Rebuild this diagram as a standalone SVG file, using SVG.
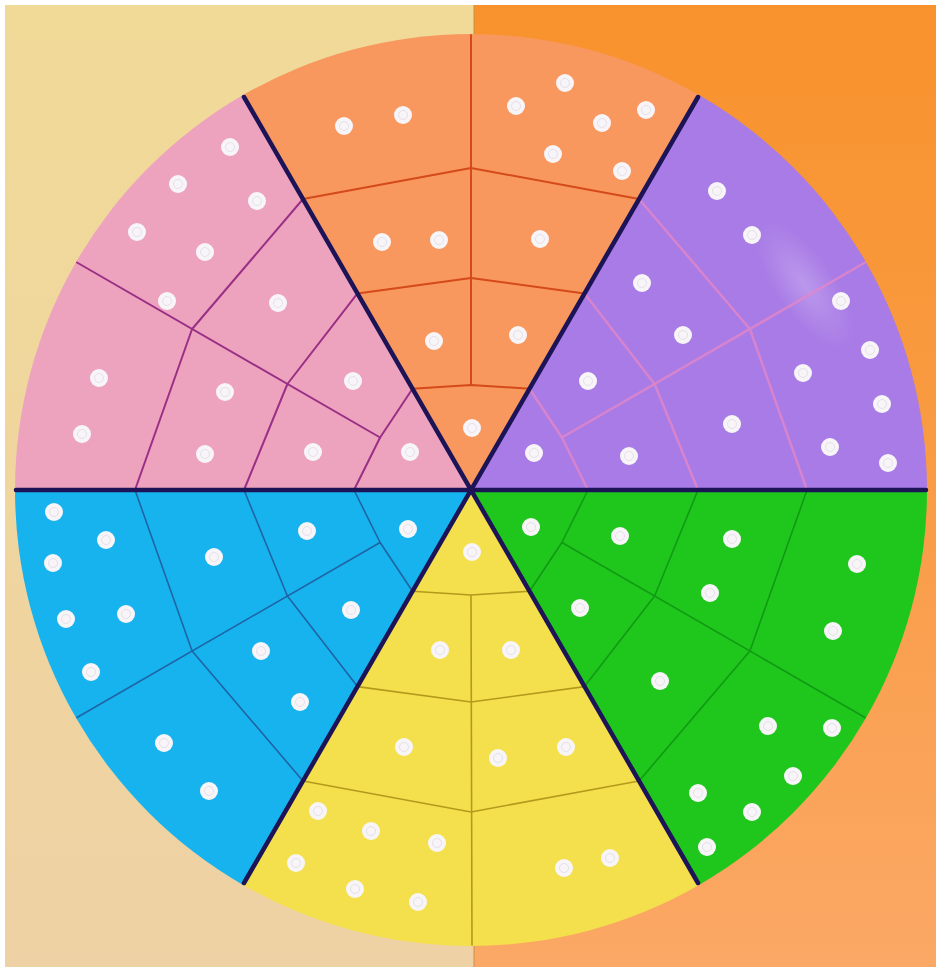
<svg xmlns="http://www.w3.org/2000/svg" width="936" height="971" viewBox="0 0 936 971">
  <defs>
    <linearGradient id="bgL" x1="0" y1="0" x2="0" y2="1">
      <stop offset="0" stop-color="#f1da98"/>
      <stop offset="1" stop-color="#eed1a4"/>
    </linearGradient>
    <linearGradient id="bgR" x1="0" y1="0" x2="0" y2="1">
      <stop offset="0" stop-color="#f8922c"/>
      <stop offset="0.5" stop-color="#f99c45"/>
      <stop offset="1" stop-color="#fba866"/>
    </linearGradient>
    <radialGradient id="purpleGlow" cx="0.5" cy="0.5" r="0.5">
      <stop offset="0" stop-color="#ffffff" stop-opacity="0.22"/>
      <stop offset="1" stop-color="#ffffff" stop-opacity="0"/>
    </radialGradient>
    <g id="dot">
      <circle r="9" fill="#f8f5f8"/>
      <circle r="4.5" fill="none" stroke="#e6dfe9" stroke-width="1"/>
    </g>
  </defs>
  <style>
    .lines { fill: none; stroke-linejoin: round; stroke-linecap: round; }
    .pinkL { stroke: #9a2f86; stroke-width: 2; }
    .orangeL { stroke: #d44a1a; stroke-width: 2; }
    .purpleL { stroke: #e486c8; stroke-width: 2.5; opacity: 0.8; }
    .blueL { stroke: #1f64a4; stroke-width: 1.6; }
    .yellowL { stroke: #b49a1c; stroke-width: 1.6; }
    .greenL { stroke: #119a14; stroke-width: 1.6; }
    .divider { stroke: #1c1456; stroke-width: 4.5; stroke-linecap: round; fill: none; }
  </style>

  <!-- background -->
  <rect x="0" y="0" width="936" height="971" fill="#ffffff"/>
  <rect x="5" y="5" width="469" height="962" fill="url(#bgL)"/>
  <rect x="474" y="5" width="462" height="962" fill="url(#bgR)"/>
  <line x1="474" y1="5" x2="474" y2="967" stroke="#c88a40" stroke-width="1.5" opacity="0.6"/>

  <!-- purple sector -->
  <g id="sector-purple">
    <path d="M471,490 L927,490 A456,456 0 0 0 699,95.1 Z" fill="#a87be6"/>
    <ellipse cx="805" cy="285" rx="75" ry="30" transform="rotate(55 805 285)" fill="url(#purpleGlow)"/>
    <g class="lines purpleL">
      <polyline points="807,490 749.9,329 639,199"/>
      <polyline points="698,490 654.6,384 584.5,293.4"/>
      <polyline points="588,490 561.9,437.5 529.5,388.7"/>
      <line x1="865" y1="262.5" x2="561.9" y2="437.5"/>
    </g>
    <use href="#dot" x="717" y="191"/>
    <use href="#dot" x="752" y="235"/>
    <use href="#dot" x="642" y="283"/>
    <use href="#dot" x="841" y="301"/>
    <use href="#dot" x="683" y="335"/>
    <use href="#dot" x="870" y="350"/>
    <use href="#dot" x="588" y="381"/>
    <use href="#dot" x="803" y="373"/>
    <use href="#dot" x="882" y="404"/>
    <use href="#dot" x="732" y="424"/>
    <use href="#dot" x="534" y="453"/>
    <use href="#dot" x="629" y="456"/>
    <use href="#dot" x="830" y="447"/>
    <use href="#dot" x="888" y="463"/>
  </g>

  <!-- orange sector -->
  <g id="sector-orange">
    <path d="M471,490 L699,95.1 A456,456 0 0 0 243,95.1 Z" fill="#f8975e"/>
    <g class="lines orangeL">
      <polyline points="639,199 471,168 303,199"/>
      <polyline points="584.5,293.4 471,278 357.5,293.4"/>
      <polyline points="529.5,388.7 471,385 412.5,388.7"/>
      <line x1="471" y1="35" x2="471" y2="385"/>
    </g>
    <use href="#dot" x="344" y="126"/>
    <use href="#dot" x="403" y="115"/>
    <use href="#dot" x="565" y="83"/>
    <use href="#dot" x="516" y="106"/>
    <use href="#dot" x="602" y="123"/>
    <use href="#dot" x="646" y="110"/>
    <use href="#dot" x="553" y="154"/>
    <use href="#dot" x="622" y="171"/>
    <use href="#dot" x="382" y="242"/>
    <use href="#dot" x="439" y="240"/>
    <use href="#dot" x="540" y="239"/>
    <use href="#dot" x="434" y="341"/>
    <use href="#dot" x="518" y="335"/>
    <use href="#dot" x="472" y="428"/>
  </g>

  <!-- pink sector -->
  <g id="sector-pink">
    <path d="M471,490 L243,95.1 A456,456 0 0 0 15,490 Z" fill="#eda3be"/>
    <g class="lines pinkL">
      <polyline points="303,199 192.1,329 135,490"/>
      <polyline points="357.5,293.4 287.4,384 244,490"/>
      <polyline points="412.5,388.7 380.1,437.5 354,490"/>
      <line x1="77" y1="262.5" x2="380.1" y2="437.5"/>
    </g>
    <use href="#dot" x="230" y="147"/>
    <use href="#dot" x="178" y="184"/>
    <use href="#dot" x="257" y="201"/>
    <use href="#dot" x="137" y="232"/>
    <use href="#dot" x="205" y="252"/>
    <use href="#dot" x="167" y="301"/>
    <use href="#dot" x="278" y="303"/>
    <use href="#dot" x="99" y="378"/>
    <use href="#dot" x="225" y="392"/>
    <use href="#dot" x="353" y="381"/>
    <use href="#dot" x="82" y="434"/>
    <use href="#dot" x="205" y="454"/>
    <use href="#dot" x="313" y="452"/>
    <use href="#dot" x="410" y="452"/>
  </g>

  <!-- blue sector -->
  <g id="sector-blue">
    <path d="M471,490 L15,490 A456,456 0 0 0 243,884.9 Z" fill="#17b3ef"/>
    <g class="lines blueL">
      <polyline points="135,490 192.1,651 303,781"/>
      <polyline points="244,490 287.4,596 357.5,686.6"/>
      <polyline points="354,490 380.1,542.5 412.5,591.3"/>
      <line x1="77" y1="717.5" x2="380.1" y2="542.5"/>
    </g>
    <use href="#dot" x="54" y="512"/>
    <use href="#dot" x="106" y="540"/>
    <use href="#dot" x="53" y="563"/>
    <use href="#dot" x="214" y="557"/>
    <use href="#dot" x="307" y="531"/>
    <use href="#dot" x="408" y="529"/>
    <use href="#dot" x="66" y="619"/>
    <use href="#dot" x="126" y="614"/>
    <use href="#dot" x="351" y="610"/>
    <use href="#dot" x="91" y="672"/>
    <use href="#dot" x="261" y="651"/>
    <use href="#dot" x="300" y="702"/>
    <use href="#dot" x="164" y="743"/>
    <use href="#dot" x="209" y="791"/>
  </g>

  <!-- yellow sector -->
  <g id="sector-yellow">
    <path d="M471,490 L243,884.9 A456,456 0 0 0 699,884.9 Z" fill="#f4e04c"/>
    <g class="lines yellowL">
      <polyline points="303,781 471,812 639,781"/>
      <polyline points="357.5,686.6 471,702 584.5,686.6"/>
      <polyline points="412.5,591.3 471,595 529.5,591.3"/>
      <line x1="472" y1="945" x2="471" y2="595"/>
    </g>
    <use href="#dot" x="472" y="552"/>
    <use href="#dot" x="440" y="650"/>
    <use href="#dot" x="511" y="650"/>
    <use href="#dot" x="404" y="747"/>
    <use href="#dot" x="498" y="758"/>
    <use href="#dot" x="566" y="747"/>
    <use href="#dot" x="318" y="811"/>
    <use href="#dot" x="371" y="831"/>
    <use href="#dot" x="437" y="843"/>
    <use href="#dot" x="296" y="863"/>
    <use href="#dot" x="355" y="889"/>
    <use href="#dot" x="418" y="902"/>
    <use href="#dot" x="564" y="868"/>
    <use href="#dot" x="610" y="858"/>
  </g>

  <!-- green sector -->
  <g id="sector-green">
    <path d="M471,490 L699,884.9 A456,456 0 0 0 927,490 Z" fill="#1fc71c"/>
    <g class="lines greenL">
      <polyline points="639,781 749.9,651 807,490"/>
      <polyline points="584.5,686.6 654.6,596 698,490"/>
      <polyline points="529.5,591.3 561.9,542.5 588,490"/>
      <line x1="865" y1="717.5" x2="561.9" y2="542.5"/>
    </g>
    <use href="#dot" x="531" y="527"/>
    <use href="#dot" x="620" y="536"/>
    <use href="#dot" x="732" y="539"/>
    <use href="#dot" x="857" y="564"/>
    <use href="#dot" x="580" y="608"/>
    <use href="#dot" x="710" y="593"/>
    <use href="#dot" x="833" y="631"/>
    <use href="#dot" x="660" y="681"/>
    <use href="#dot" x="768" y="726"/>
    <use href="#dot" x="832" y="728"/>
    <use href="#dot" x="793" y="776"/>
    <use href="#dot" x="698" y="793"/>
    <use href="#dot" x="752" y="812"/>
    <use href="#dot" x="707" y="847"/>
  </g>

  <!-- dividing lines -->
  <g id="dividers" class="divider">
    <line x1="16" y1="490" x2="926" y2="490"/>
    <line x1="244" y1="97" x2="698" y2="883"/>
    <line x1="698" y1="97" x2="244" y2="883"/>
  </g>
</svg>
